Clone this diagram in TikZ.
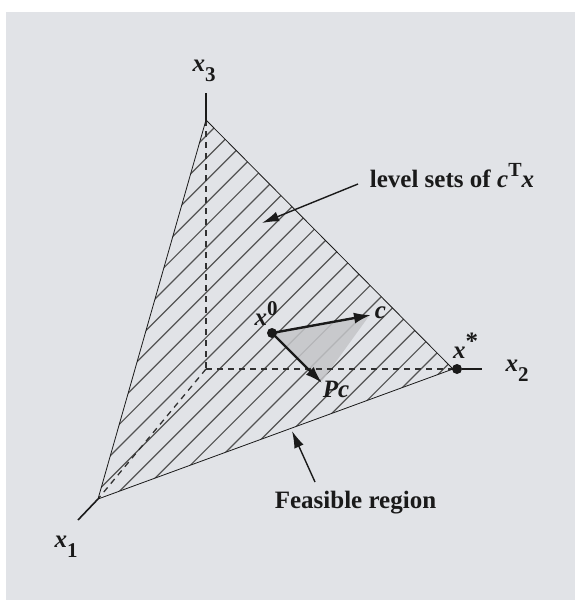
\documentclass[tikz,border=0pt]{standalone}
\usepackage{fontspec}
\setmainfont{Liberation Serif}
\usetikzlibrary{arrows.meta}
\definecolor{panel}{HTML}{E1E3E7}
\definecolor{wedge}{HTML}{C4C5C8}
\definecolor{ink}{HTML}{1A1A1A}
\newcommand{\vsym}[1]{\textbf{\textit{#1}}}
\newcommand{\idx}[2]{\raisebox{#1}{\fontsize{21}{23}\selectfont #2}}
\tikzset{
  lbl/.style     = {inner sep=0pt, font=\fontsize{25}{27}\selectfont\bfseries, text=ink},
  edgeln/.style  = {draw=ink, line width=0.8pt},
  hatchln/.style = {draw=ink!75, line width=1.2pt},
  axisln/.style  = {draw=ink, line width=1.6pt},
  hidden/.style  = {draw=ink!90, line width=1.3pt, dash pattern=on 6pt off 5pt},
  dotnode/.style = {fill=ink, circle, inner sep=0pt, minimum size=10pt},
  sig/.style     = {-{Latex[length=17pt,width=10pt]}, line width=1.4pt, draw=ink},
  vec/.style     = {-{Latex[length=17pt,width=11pt]}, line width=2.4pt, draw=ink},
}
\begin{document}
\begin{tikzpicture}[x=1pt,y=-1pt]
\useasboundingbox (0,0) rectangle (575,600);
\fill[panel] (6,12) rectangle (575,600);
\coordinate (o) at (206,369);
\coordinate (top) at (206,120);
\coordinate (left) at (98,499);
\coordinate (right) at (453,369);
% level lines
\begin{scope}
\clip (top) -- (right) -- (left) -- cycle;
\foreach \k in {0,...,21}
  \draw[hatchln] ({342+22.4*\k-100},100) -- ({342+22.4*\k-520},520);
\end{scope}
\fill[wedge,opacity=0.85] (272,333) -- (369,316) -- (322,381) -- cycle;
\draw[hidden] (top) -- (o);
\draw[hidden] (o) -- (right);
\draw[hidden] (o) -- (left);
\draw[edgeln] (top) -- (right) -- (left) -- cycle;
% axis stubs
\coordinate (x3end) at (206,93);
\coordinate (x1end) at (78,520);
\coordinate (x2end) at (482,369);
\draw[axisln] (top) -- (x3end);
\draw[axisln] (left) -- (x1end);
\node[dotnode] (xstar) at (457,369) {};
\draw[axisln] (xstar) -- (x2end);
\node[dotnode] (xzero) at (272,333) {};
\coordinate (ctip) at (371,315);
\coordinate (pctip) at (322,383);
\draw[vec] (xzero.center) -- (ctip);
\draw[vec] (xzero.center) -- (pctip);
% labels
\node[lbl] (x3) at (204,71) {\vsym{x}\idx{-10pt}{3}};
\node[lbl] (x1) at (66,547) {\vsym{x}\idx{-10pt}{1}};
\node[lbl] (x2) at (517,371) {\vsym{x}\idx{-10pt}{2}};
\node[lbl] (xs) at (465.5,346) {\vsym{x}\raisebox{9pt}{*}};
\node[lbl] (x0) at (266,314) {\vsym{x}\idx{10pt}{0}};
\node[lbl] (c) at (380.5,313) {\vsym{c}};
\node[lbl] (pc) at (336,389) {\vsym{Pc}};
\node[lbl] (levels) at (452,176) {level sets of \vsym{c}\raisebox{11pt}{\fontsize{20}{22}\selectfont T}\vsym{x}};
\node[lbl] (feas) at (355.5,502.5) {Feasible region};
\coordinate (levelsA) at (358,184);
\coordinate (levelsB) at (262,223);
\coordinate (feasA) at (315,482);
\coordinate (feasB) at (292,431);
\draw[sig] (levelsA) -- (levelsB);
\draw[sig] (feasA) -- (feasB);
\end{tikzpicture}
\end{document}
